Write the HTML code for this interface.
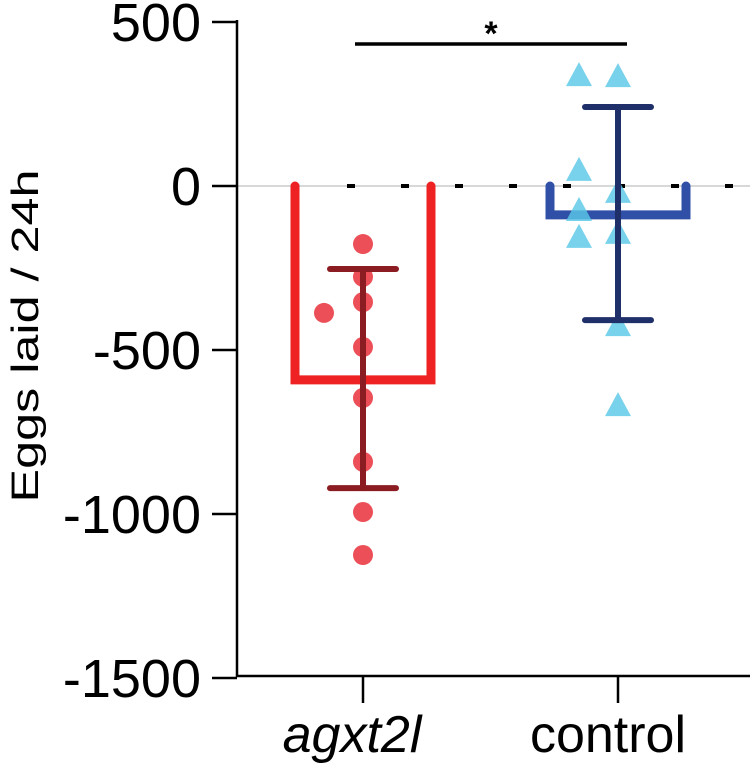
<!DOCTYPE html>
<html><head><meta charset="utf-8"><style>
html,body{margin:0;padding:0;background:#fff;}
svg{display:block;font-family:"Liberation Sans",Arial,sans-serif;}
</style></head><body>
<svg id="chart" width="750" height="769" viewBox="0 0 750 769"></svg>
<script>
const categories = ["agxt2l","control"];
const means = [-591, -88];
const errLow = [-921, -409];
const errHigh = [-253, 241];
const redPoints = [-177,-277,-354,-491,-646,-841,-994,-1125,-387];
const redOffsets = [0,0,0,0,0,0,0,0,-1];
const bluePoints = [338,335,49,-18,-73,-155,-143,-424,-668];
const blueOffsets = [-1,0,-1,0,-1,-1,0,0,0];
const yTicks = [500,0,-500,-1000,-1500];

const NS="http://www.w3.org/2000/svg";
const svg=document.getElementById('chart');
const y=v=>186-v*0.328;
const xc=[363,618];
function mk(t,a,p){const e=document.createElementNS(NS,t);for(const k in a)e.setAttribute(k,a[k]);(p||svg).appendChild(e);return e;}

let zl=mk('line',{x1:237,x2:750,y1:y(0),y2:y(0),stroke:'#ccc','stroke-width':1.5});


let dl=mk('line',{x1:347,x2:750,y1:y(0),y2:y(0),stroke:'#000','stroke-width':4,'stroke-dasharray':'8 46'});



let ya=mk('line',{x1:237,x2:237,y1:20,y2:677,stroke:'#000','stroke-width':2.5});


let xa=mk('line',{x1:236,x2:750,y1:676,y2:676,stroke:'#000','stroke-width':2.5});


yTicks.forEach(v=>{
  let t=mk('line',{x1:212,x2:237,y1:y(v),y2:y(v),stroke:'#000','stroke-width':2.5});
  
  
  let l=mk('text',{x:201,y:y(v)+19,'text-anchor':'end','font-size':54});
  l.textContent=v;
  
  
});
let yt=mk('text',{x:0,y:0,'text-anchor':'middle','font-size':38,textLength:333,lengthAdjust:'spacingAndGlyphs',transform:'translate(38,336) rotate(-90)'});
yt.textContent='Eggs laid / 24h';


categories.forEach((c,i)=>{
  let t=mk('line',{x1:xc[i],x2:xc[i],y1:676,y2:703,stroke:'#000','stroke-width':2.5});
  
  
  let l=mk('text',{x:i==0?352:608,y:752,'text-anchor':'middle','font-size':52,'font-style':i==0?'italic':'normal'});
  l.textContent=c;
  
  
});

const barCol=['#ee2222','#3050a8'];
const errCol=['#8b1c22','#1f2f6a'];
categories.forEach((c,i)=>{
  const x0=xc[i]-68,x1=xc[i]+68;
  let b=mk('path',{d:`M${x0},${y(0)} L${x0},${y(means[i])} L${x1},${y(means[i])} L${x1},${y(0)}`,fill:'none',stroke:barCol[i],'stroke-width':9,'stroke-linecap':'round','stroke-linejoin':'miter'});
  
  
});

redPoints.forEach((v,k)=>{
  let p=mk('circle',{cx:xc[0]+redOffsets[k]*39,cy:y(v),r:10,fill:'rgba(232,40,50,0.82)'});
  
  
});
bluePoints.forEach((v,k)=>{
  const cx=xc[1]+blueOffsets[k]*39,cy=y(v);
  let p=mk('polygon',{points:`${cx},${cy-13} ${cx-13},${cy+11} ${cx+13},${cy+11}`,fill:'rgba(90,200,230,0.82)'});
  
  
});

categories.forEach((c,i)=>{
  const g=mk('g',{stroke:errCol[i],'stroke-width':6,'stroke-linecap':'round'});
  
  
  mk('line',{x1:xc[i],x2:xc[i],y1:y(errHigh[i]),y2:y(errLow[i])},g);
  mk('line',{x1:xc[i]-33,x2:xc[i]+33,y1:y(errHigh[i]),y2:y(errHigh[i])},g);
  mk('line',{x1:xc[i]-33,x2:xc[i]+33,y1:y(errLow[i]),y2:y(errLow[i])},g);
});

let sl=mk('line',{x1:355,x2:627,y1:44,y2:44,stroke:'#000','stroke-width':3.5});


let st=mk('text',{x:491,y:45,'text-anchor':'middle','font-size':34,'font-weight':'bold'});
st.textContent='*';


</script>
</body></html>
